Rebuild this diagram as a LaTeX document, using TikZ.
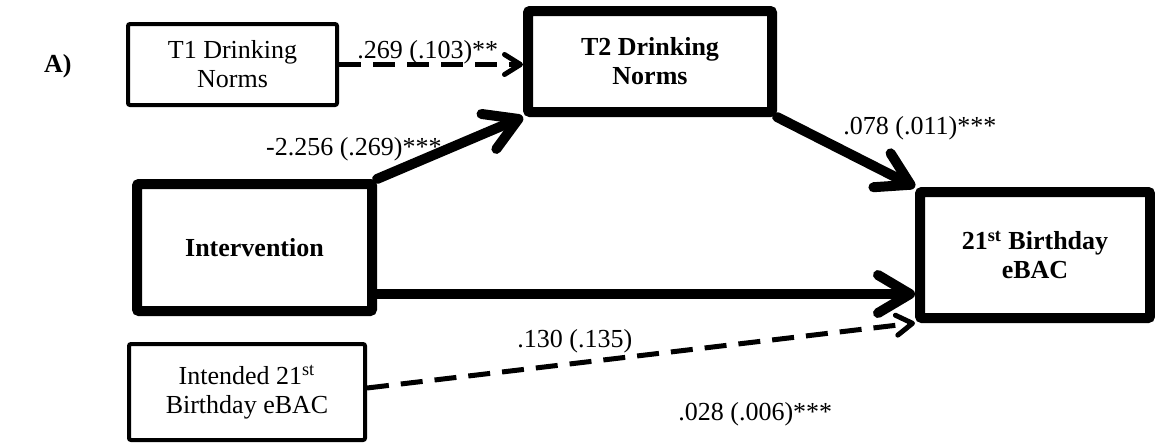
\documentclass[tikz,border=0pt]{standalone}
\usepackage{fontspec}
\setmainfont{Liberation Serif}
\usepackage{tikz}
\usetikzlibrary{
	arrows.meta,
	calc,
	positioning
}
\newcommand{\pathfont}{\fontsize{13}{14.5}\selectfont}

\tikzset{
	thinbox/.style={draw, line width=2pt, rounded corners=1pt, align=center, inner sep=0pt},
	thickbox/.style={draw, line width=5pt, rounded corners=1pt, align=center, inner sep=0pt, font=\pathfont\bfseries},
	bigarrow/.style={line width=5pt, line cap=round, -{Straight Barb[length=16pt, width=19pt, round]}},
	dasharrow/.style={line width=2.5pt, dash pattern=on 11pt off 6pt, -{Straight Barb[length=8pt, width=10pt, round]}},
	coef/.style={inner sep=0pt}
}

\begin{document}
\begin{tikzpicture}[x=0.5pt, y=-0.5pt, font=\pathfont]
		\useasboundingbox (0, 0) rectangle (1155, 446);
		\coordinate (hrow) at (0, 294);
		
		\node[thinbox, minimum width=104.5pt, minimum height=40.5pt] (t1) at (232.5, 64.5) {T1 Drinking\\Norms};
		\node[thickbox, minimum width=122pt, minimum height=50.5pt] (t2) at (650, 61.5) {T2 Drinking\\Norms};
		\node[thickbox, minimum width=117.5pt, minimum height=63.5pt] (interv) at (254.5, 247.5) {Intervention};
		\node[thinbox, minimum width=118pt, minimum height=48pt] (intend) at (247, 392) {Intended 21\textsuperscript{st}\\Birthday eBAC};
		\node[thickbox, minimum width=115pt, minimum height=63pt] (bday) at (1035, 255) {21\textsuperscript{st} Birthday\\eBAC};
		
		\draw[dasharrow] (t1.east) -- (t1.east -| t2.west);
		\draw[bigarrow] (interv.north east) -- (t2.south west);
		\draw[bigarrow] (t2.south east) -- (bday.north west);
		\draw[bigarrow] (interv.east |- hrow) -- (bday.west |- hrow);
		\draw[dasharrow] ([yshift=2pt]intend.east) -- (bday.south west);
		
		\node[anchor=base west, font=\pathfont\bfseries] (panel) at (37, 72) {A)};
		\node[coef, anchor=base west] (c1) at (357, 58) {.269 (.103)**};
		\node[coef, anchor=base east] (c2) at (442, 155) {-2.256 (.269)***};
		\node[coef, anchor=base west] (c3) at (843, 134) {.078 (.011)***};
		\node[coef, anchor=base west] (c4) at (517, 347) {.130 (.135)};
		\node[coef, anchor=base west] (c5) at (678, 420) {.028 (.006)***};
	\end{tikzpicture}
\end{document}
